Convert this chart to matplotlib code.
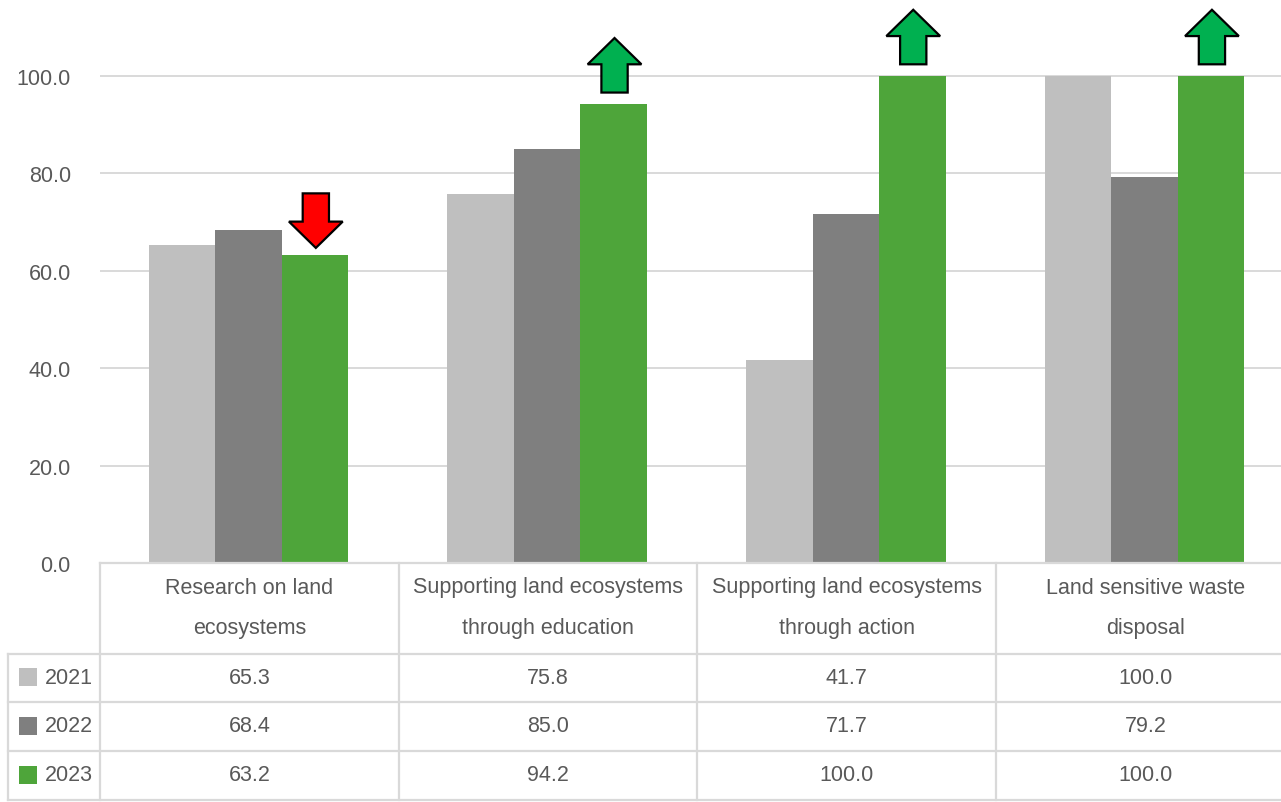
import matplotlib.pyplot as plt
import matplotlib.transforms as mtransforms
from matplotlib.patches import FancyArrow, Rectangle
from matplotlib.lines import Line2D
import numpy as np

plt.rcParams['font.family'] = ['Liberation Sans', 'DejaVu Sans']

# data
categories = [["Research on land", "ecosystems"],
              ["Supporting land ecosystems", "through education"],
              ["Supporting land ecosystems", "through action"],
              ["Land sensitive waste", "disposal"]]
years = ["2021", "2022", "2023"]
v2021 = [65.3, 75.8, 41.7, 100.0]
v2022 = [68.4, 85.0, 71.7, 79.2]
v2023 = [63.2, 94.2, 100.0, 100.0]
trend = [-1, 1, 1, 1]   # arrow direction over 2023 bars

colors = ["#BFBFBF", "#7F7F7F", "#4EA53A"]
txt = "#595959"
gridc = "#D9D9D9"
fs = 15.5

W, H = 1281, 803
fig = plt.figure(figsize=(W / 100, H / 100), dpi=100)
ax = fig.add_axes([100 / W, (H - 564) / H, 1181 / W, 564 / H])

cat_w = 298.7  # px per category
bw = 0.2226
ind = np.arange(len(v2021))
series = [v2021, v2022, v2023]
for k, vals in enumerate(series):
    ax.bar(ind + (k - 1) * bw - 0.003, vals, bw, color=colors[k], zorder=2)

ax.set_xlim(-0.5, -0.5 + 1181 / cat_w)
ax.set_ylim(0, 564 / 4.87)
ax.set_yticks(np.arange(0, 101, 20))
ax.set_yticklabels(["%.1f" % t for t in np.arange(0, 101, 20)], color=txt, fontsize=fs)
ax.tick_params(axis='y', length=0, pad=21)
ax.set_xticks([])
ax.grid(axis='y', color=gridc, lw=1.4, zorder=0)
for s in ax.spines.values():
    s.set_visible(False)

# arrows over 2023 bars
alen, hlen = 11.2, 5.4
for i, d in enumerate(trend):
    x = ind[i] + bw
    v = v2023[i]
    if d > 0:
        y0 = v + 2.4
        fc = "#00B050"
    else:
        y0 = v + 1.5 + alen
        fc = "#FF0000"
    ar = FancyArrow(x, y0, 0, d * alen, width=0.088, head_width=0.18,
                    head_length=hlen, length_includes_head=True,
                    facecolor=fc, edgecolor="black", lw=1.6, zorder=4, clip_on=False)
    ax.add_patch(ar)

# data table below the plot
tr = mtransforms.blended_transform_factory(ax.transData, fig.transFigure)
def fy(py):
    return 1 - py / H

x_right = -0.5 + 1281 / cat_w
x_left = -0.5 - 92 / cat_w
row_lines = [655, 703, 752, 801]
lw = 1.6
fig.add_artist(Line2D([-0.5, x_right], [fy(564), fy(564)], transform=tr, color=gridc, lw=lw))
for py in row_lines:
    fig.add_artist(Line2D([x_left, x_right], [fy(py), fy(py)], transform=tr, color=gridc, lw=lw))
for b in [-0.5, 0.5, 1.5, 2.5]:
    fig.add_artist(Line2D([b, b], [fy(564), fy(801)], transform=tr, color=gridc, lw=lw))
fig.add_artist(Line2D([x_left, x_left], [fy(655), fy(801)], transform=tr, color=gridc, lw=lw))

for i, lab in enumerate(categories):
    fig.text(ind[i], fy(588), lab[0], transform=tr, ha='center', va='center', color=txt, fontsize=fs)
    fig.text(ind[i], fy(629), lab[1], transform=tr, ha='center', va='center', color=txt, fontsize=fs)

row_y = [678, 727, 776]
for k, vals in enumerate(series):
    fig.add_artist(Rectangle((19 / W, fy(row_y[k] + 9)), 18 / W, 18 / H,
                             transform=fig.transFigure, facecolor=colors[k], edgecolor='none'))
    fig.text(45 / W, fy(row_y[k]), years[k], ha='left', va='center', color=txt, fontsize=fs)
    for i, v in enumerate(vals):
        fig.text(ind[i], fy(row_y[k]), "%.1f" % v, transform=tr, ha='center', va='center',
                 color=txt, fontsize=fs)

fig.savefig("out.png", dpi=100)
